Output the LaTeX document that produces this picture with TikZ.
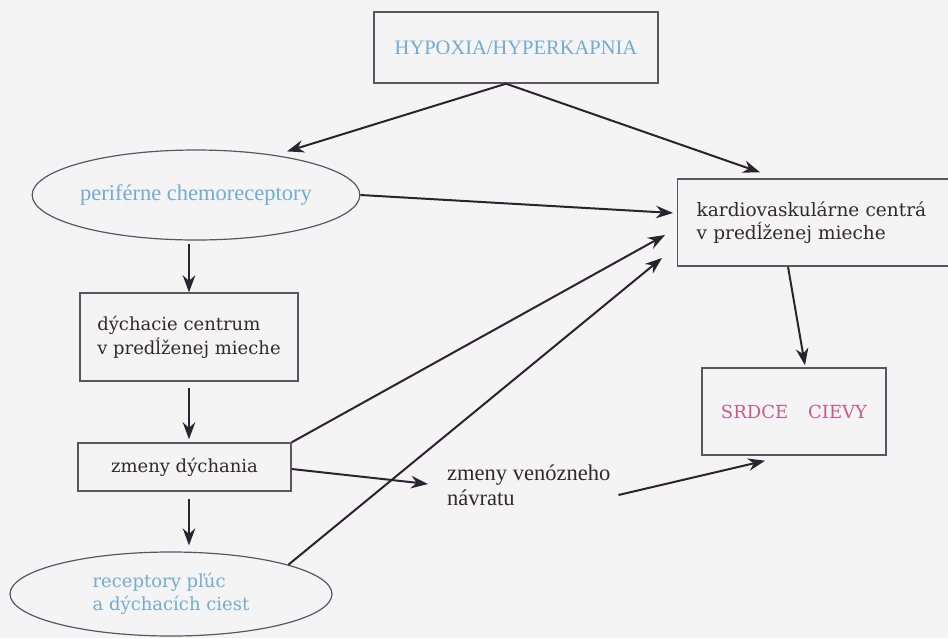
\documentclass[tikz,border=0pt]{standalone}
\usepackage{fontspec}
\setmainfont{DejaVu Serif}
\newfontfamily\timesfam{Liberation Serif}
\usetikzlibrary{arrows.meta,shapes.geometric,calc}
\definecolor{paper}{HTML}{F4F4F4}
\definecolor{ink}{HTML}{2A2432}
\definecolor{frame}{HTML}{5A5660}
\definecolor{txt}{HTML}{2F2B2B}
\definecolor{skyblue}{HTML}{72ACD2}
\definecolor{rose}{HTML}{C45C8C}

\begin{document}
\begin{tikzpicture}[x=1pt,y=-1pt,
  box/.style={draw=frame,line width=1.4pt,rectangle,inner sep=0pt,text=txt,
    font=\fontsize{18}{24}\selectfont},
  oval/.style={draw=frame,line width=1.2pt,ellipse,inner sep=0pt},
  arr/.style={draw=ink,line width=2pt,-{Stealth[length=17pt,width=12.5pt]}}
]
\useasboundingbox (0,0) rectangle (948,638);
\fill[paper] (0,0) rectangle (948,638);

% nodes
\node[box,minimum width=284pt,minimum height=71pt,text=skyblue,
  font=\timesfam\fontsize{20.5}{24}\selectfont] (hyp) at (516,47.5) {HYPOXIA/HYPERKAPNIA};
\node[oval,minimum width=322pt,minimum height=90pt,text=skyblue,
  font=\timesfam\fontsize{22.5}{26}\selectfont] (per) at (196,195) {periférne chemoreceptory};
\node[box,minimum width=218pt,minimum height=88pt,align=left] (dych) at (189,337)
  {dýchacie centrum\\v predĺženej mieche};
\node[box,minimum width=213pt,minimum height=48pt] (zmd) at (184.5,467) {zmeny dýchania};
\node[oval,minimum width=322pt,minimum height=84pt,align=left,text=skyblue,
  font=\fontsize{18}{23}\selectfont] (rec) at (171,594) {receptory pľúc\\a dýchacích ciest};
\node[box,anchor=west,minimum height=87pt,inner xsep=19pt,text width=250pt,align=left,
  font=\fontsize{18.5}{23}\selectfont] (kar) at (677,222.5)
  {kardiovaskulárne centrá\\v predĺženej mieche};
\node[box,minimum width=184pt,minimum height=87pt,text=rose] (srd) at (794,411.5)
  {SRDCE\hspace{20pt}CIEVY};
\node[anchor=west,inner sep=0pt,align=left,text=txt,
  font=\timesfam\fontsize{22.5}{25}\selectfont] (ven) at (447,485) {zmeny venózneho\\návratu};

% connectors
\coordinate (apex) at ($(hyp.south)+(-10,0)$);
\draw[arr] (apex) -- ($(per.north)+(91,2)$);
\draw[arr] (apex) -- ($(kar.north west)+(83,-6)$);
\draw[arr] (per.east) -- ($(kar.west)+(-4,-9.5)$);
\draw[arr,shorten <=3pt] (dych.north |- per.south) -- (dych.north);
\draw[arr,shorten <=6pt,shorten >=3pt] (dych.south) -- (dych.south |- zmd.north);
\draw[arr,shorten <=7pt,shorten >=6pt] (dych.south |- zmd.south) -- (dych.south |- rec.north);
\draw[arr] (zmd.north east) -- ($(kar.west)+(-12,12.5)$);
\draw[arr] (rec.14) -- ($(kar.west)+(-15,35.5)$);
\draw[arr] ($(zmd.east)+(0,2)$) -- ($(ven.west)+(-19,-1)$);
\draw[arr] ($(ven.east)+(8,10)$) -- ($(srd.south)+(-29,5)$);
\draw[arr] ($(kar.south west)+(111,0)$) -- ($(srd.north)+(11,-2)$);
\end{tikzpicture}
\end{document}
